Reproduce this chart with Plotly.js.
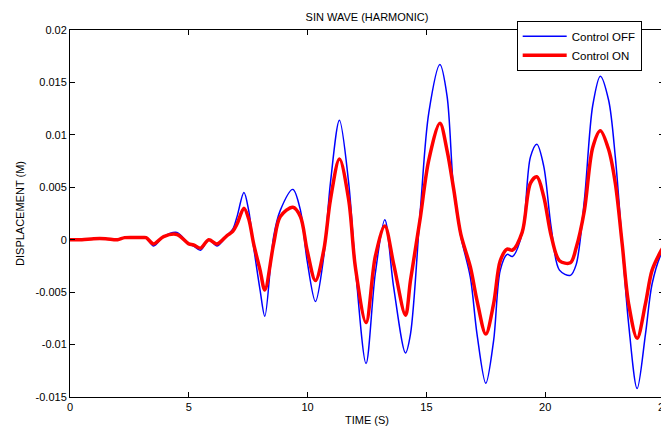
<!DOCTYPE html>
<html>
<head>
<meta charset="utf-8">
<script src="https://cdn.plot.ly/plotly-3.0.1.min.js"></script>
<style>
html, body { margin: 0; padding: 0; overflow: hidden; background: #fff; }
#chart { width: 700px; height: 430px; }
</style>
</head>
<body>
<div id="chart"></div>
<script>
// Time (s)
var time = [0, 0.5, 1.0, 1.5, 2.0, 2.3, 3.0, 3.2, 3.52, 3.94, 4.5, 5.0, 5.2, 5.49, 5.84, 6.19, 6.61, 6.85, 7.03, 7.32, 7.52, 7.73, 8.0, 8.2, 8.57, 8.85, 9.38, 9.7, 9.98, 10.33, 10.68, 10.96, 11.34, 11.73, 12.01, 12.46, 12.85, 13.25, 13.62, 14.12, 14.33, 14.75, 15.1, 15.57, 15.87, 16.15, 16.45, 16.85, 17.13, 17.5, 17.83, 18.11, 18.4, 18.62, 19.03, 19.38, 19.65, 19.94, 20.25, 20.6, 21.06, 21.3, 21.65, 22.0, 22.32, 22.67, 22.95, 23.24, 23.51, 23.87, 24.22, 24.5, 24.89, 25.0];
// Control OFF displacement (m)
var controlOff = [0, 0, 0.0001, 0.0001, 0.0, 0.0002, 0.0002, 0.0002, -0.0006, 0.0003, 0.0007, -0.0004, -0.0006, -0.001, 0.0, -0.0006, 0.0004, 0.001, 0.0022, 0.0045, 0.0028, -0.0007, -0.0048, -0.0073, 0.0003, 0.0028, 0.0048, 0.0028, -0.002, -0.0059, -0.0016, 0.0054, 0.0114, 0.0054, -0.0026, -0.0118, -0.0032, 0.0019, -0.0045, -0.0108, -0.009, 0.003, 0.0121, 0.0167, 0.0137, 0.0047, 0.0003, -0.0036, -0.009, -0.0137, -0.0096, -0.0029, -0.0014, -0.0016, 0.0006, 0.0079, 0.0091, 0.007, 0.0012, -0.0029, -0.0034, -0.0024, 0.0038, 0.0128, 0.0156, 0.0133, 0.0079, -0.0004, -0.008, -0.0142, -0.009, -0.0042, -0.0013, -0.0009];
// Control ON displacement (m)
var controlOn = [0, 0, 0.0001, 0.0001, 0.0, 0.0002, 0.0002, 0.0002, -0.0004, 0.0003, 0.0005, -0.0004, -0.0005, -0.0008, 0.0, -0.0004, 0.0004, 0.0008, 0.0015, 0.003, 0.002, -0.0004, -0.0029, -0.0048, -0.0004, 0.0022, 0.0031, 0.0022, -0.001, -0.0039, -0.001, 0.0038, 0.0077, 0.0038, -0.0026, -0.0079, -0.0016, 0.0013, -0.0023, -0.0072, -0.0039, 0.0022, 0.0076, 0.0111, 0.0085, 0.0048, 0.0005, -0.0026, -0.0058, -0.009, -0.0061, -0.002, -0.0009, -0.001, 0.0007, 0.0054, 0.006, 0.0041, 0.0004, -0.002, -0.0022, -0.0008, 0.0028, 0.0088, 0.0104, 0.0086, 0.0054, -0.0004, -0.0061, -0.0094, -0.0061, -0.0029, -0.001, -0.0006];

var xTickVals = [0, 5, 10, 15, 20, 25];
var xTickText = ['0', '5', '10', '15', '20', '25'];
var yTickVals = [-0.015, -0.01, -0.005, 0, 0.005, 0.01, 0.015, 0.02];
var yTickText = ['-0.015', '-0.01', '-0.005', '0', '0.005', '0.01', '0.015', '0.02'];

var FONT = 'Liberation Sans, Arial, sans-serif';

var traces = [
  {
    x: time, y: controlOff, type: 'scatter', mode: 'lines', name: 'Control OFF',
    line: { color: '#0000ff', width: 1.5, shape: 'spline', smoothing: 0.9 }
  },
  {
    x: time, y: controlOn, type: 'scatter', mode: 'lines', name: 'Control ON',
    line: { color: '#ff0000', width: 3.5, shape: 'spline', smoothing: 0.9 }
  }
];

var axisCommon = {
  showgrid: false, zeroline: false, showline: true, linecolor: '#000', linewidth: 1,
  mirror: 'ticks', ticks: 'inside', ticklen: 5, tickcolor: '#000', tickwidth: 1,
  tickfont: { family: FONT, size: 11, color: '#000' }
};

var layout = {
  width: 700, height: 430,
  margin: { l: 70, r: 36, t: 30, b: 33 },
  paper_bgcolor: '#fff', plot_bgcolor: '#fff',
  font: { family: FONT, size: 11, color: '#000' },
  title: {
    text: 'SIN WAVE (HARMONIC)',
    font: { family: FONT, size: 11, color: '#000' },
    x: 0.5, xref: 'paper', y: 1 - 17 / 430, yref: 'container', yanchor: 'middle'
  },
  xaxis: Object.assign({}, axisCommon, {
    range: [0, 25], tickvals: xTickVals, ticktext: xTickText,
    title: { text: 'TIME (S)', font: { family: FONT, size: 11, color: '#000' }, standoff: 4 }
  }),
  yaxis: Object.assign({}, axisCommon, {
    range: [-0.015, 0.02], tickvals: yTickVals, ticktext: yTickText,
    title: { text: 'DISPLACEMENT (M)', font: { family: FONT, size: 11, color: '#000' }, standoff: 8 }
  }),
  showlegend: true,
  legend: {
    x: 0.752, xanchor: 'left', y: 1.025, yanchor: 'top',
    bgcolor: '#fff', bordercolor: '#000', borderwidth: 1,
    font: { family: FONT, size: 11.5, color: '#000' },
    itemwidth: 44
  }
};

Plotly.newPlot('chart', traces, layout, { displayModeBar: false, staticPlot: true });
</script>
</body>
</html>
